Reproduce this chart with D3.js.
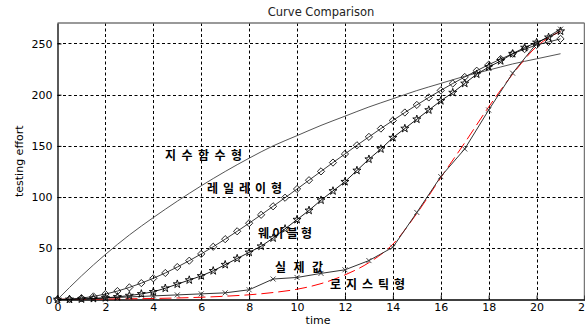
<!DOCTYPE html>
<html><head><meta charset="utf-8">
<script src="https://cdn.jsdelivr.net/npm/d3@7"></script>
<style>body{margin:0;background:#fff;}svg{display:block;}</style>
</head><body>
<svg id="c" width="585" height="327"></svg>
<script>
// ---- data ----
const title = "Curve Comparison";
const xLabel = "time";
const yLabel = "testing effort";
const xTicks = [0,2,4,6,8,10,12,14,16,18,20,22];
const yTicks = [0,50,100,150,200,250];
const tInt = [0,1,2,3,4,5,6,7,8,9,10,11,12,13,14,15,16,17,18,19,20,21];
const tHalf = [0,0.5,1,1.5,2,2.5,3,3.5,4,4.5,5,5.5,6,6.5,7,7.5,8,8.5,9,9.5,10,10.5,11,11.5,12,12.5,13,13.5,14,14.5,15,15.5,16,16.5,17,17.5,18,18.5,19,19.5,20,20.5,21];
const expValues = [0,23,44,63,80,96,111,125,138,150,160,170,179,188,196,204,211,218,224,230,235,240];
const rayleighValues = [0,0.3,1.3,3.0,5.3,8.2,11.8,16.0,20.7,25.9,31.7,37.9,44.5,51.5,58.9,66.6,74.5,82.7,91.0,99.4,107.9,116.5,125.1,133.7,142.1,150.6,158.8,166.9,174.8,182.6,190.0,197.3,204.2,210.9,217.3,223.4,229.3,234.8,240.0,244.5,248.5,251.5,254.5];
const weibullValues = [0,0.1,0.4,0.9,1.6,2.6,3.8,5.5,7.5,11,15,19,23,28,34,40,46,52,60,69,78,87,97,106,115,126,137,147,158,167,176,185,194,202,211,220,227,233,240,246,251,256,262];
const actualValues = [0,0.5,1.5,2.5,3.5,4.5,5.5,6.5,9.5,20,21.5,25.5,29,38,51,85,120,147,185,221,250,264];
const logisticValues = [0.2,0.3,0.5,0.7,1,1.5,2.2,3.2,4.6,6.8,10,15.5,24,36,54,84,119,153,188,220,247,262];
const labels = [
  {text:"지수함수형", x:4.49, y:141.6, w:77},
  {text:"레일레이형", x:6.24, y:108.9, w:75},
  {text:"웨이블형", x:8.37, y:65.9, w:54},
  {text:"실제값", x:9.08, y:32.7, w:48},
  {text:"로지스틱형", x:11.38, y:16.1, w:75}
];

// ---- chart ----
const svg = d3.select("#c");
const x = d3.scaleLinear().domain([0,22]).range([57.5,584.5]);
const y = d3.scaleLinear().domain([0,270]).range([299.5,23]);
const font = "'DejaVu Sans', sans-serif";

// grid
const g = svg.append("g");
g.selectAll(".vg").data(xTicks.filter(d=>d>0&&d<22)).join("line")
  .attr("x1",d=>Math.round(x(d))+0.5).attr("x2",d=>Math.round(x(d))+0.5)
  .attr("y1",y(270)).attr("y2",y(0))
  .attr("stroke","#000").attr("stroke-width",1).attr("stroke-dasharray","3,2.5");
g.selectAll(".hg").data(yTicks.filter(d=>d>0)).join("line")
  .attr("y1",d=>Math.round(y(d))+0.5).attr("y2",d=>Math.round(y(d))+0.5)
  .attr("x1",x(0)).attr("x2",x(22))
  .attr("stroke","#000").attr("stroke-width",1).attr("stroke-dasharray","3,2.5");

// box
svg.append("line").attr("x1",x(0)).attr("x2",x(22)).attr("y1",y(270)).attr("y2",y(270)).attr("stroke","#777").attr("stroke-width",1.5);
svg.append("line").attr("x1",x(22)).attr("x2",x(22)).attr("y1",y(270)).attr("y2",y(0)).attr("stroke","#777").attr("stroke-width",1.5);

// axes
const xAxis = d3.axisBottom(x).tickValues(xTicks).tickSizeInner(-4).tickSizeOuter(0).tickPadding(5);
const yAxis = d3.axisLeft(y).tickValues(yTicks).tickSizeInner(-4).tickSizeOuter(0).tickPadding(5);
const gx = svg.append("g").attr("transform",`translate(0,${y(0)})`).call(xAxis);
const gy = svg.append("g").attr("transform",`translate(${x(0)},0)`).call(yAxis);
[gx,gy].forEach(a=>{
  a.selectAll("text").attr("font-family",font).attr("font-size",11).attr("fill","#000");
  a.select(".domain").attr("stroke","#000").attr("stroke-width",1.3);
  a.selectAll(".tick line").attr("stroke","#000");
});
gx.selectAll("text").attr("dy","0.6em");

// titles
svg.append("text").attr("x",(x(0)+x(22))/2).attr("y",16).attr("text-anchor","middle")
  .attr("font-family",font).attr("font-size",11.5).attr("fill","#222").text(title);
svg.append("text").attr("x",318).attr("y",324).attr("text-anchor","middle")
  .attr("font-family",font).attr("font-size",11).text(xLabel);
svg.append("text").attr("transform",`translate(23,${(y(0)+y(270))/2}) rotate(-90)`).attr("text-anchor","middle")
  .attr("font-family",font).attr("font-size",11).text(yLabel);

// lines
const plot = svg.append("g");
const mk = (xs, ys, curve) => d3.line().x((d,i)=>x(xs[i])).y(d=>y(d)).curve(curve)(ys);

plot.append("path").attr("d",mk(tInt,expValues,d3.curveMonotoneX))
  .attr("fill","none").attr("stroke","#555").attr("stroke-width",1);
plot.append("path").attr("d",mk(tInt,logisticValues,d3.curveMonotoneX))
  .attr("fill","none").attr("stroke","#ff0000").attr("stroke-width",1).attr("stroke-dasharray","12,5");
plot.append("path").attr("d",mk(tInt,actualValues,d3.curveLinear))
  .attr("fill","none").attr("stroke","#333").attr("stroke-width",1);
plot.append("path").attr("d",mk(tHalf,rayleighValues,d3.curveLinear))
  .attr("fill","none").attr("stroke","#222").attr("stroke-width",0.9);
plot.append("path").attr("d",mk(tHalf,weibullValues,d3.curveLinear))
  .attr("fill","none").attr("stroke","#000").attr("stroke-width",0.9);

// markers
plot.selectAll(".dm").data(rayleighValues).join("path")
  .attr("d","M0,-3.6L3.6,0L0,3.6L-3.6,0Z")
  .attr("transform",(d,i)=>`translate(${x(tHalf[i])},${y(d)})`)
  .attr("fill","none").attr("stroke","#111").attr("stroke-width",0.9);
const star = d3.symbol().type(d3.symbolStar).size(20)();
plot.selectAll(".st").data(weibullValues).join("path")
  .attr("d",star)
  .attr("transform",(d,i)=>`translate(${x(tHalf[i])},${y(d)})`)
  .attr("fill","none").attr("stroke","#000").attr("stroke-width",0.9);
plot.selectAll(".xm").data(actualValues).join("path")
  .attr("d","M-2.5,-2.5L2.5,2.5M-2.5,2.5L2.5,-2.5")
  .attr("transform",(d,i)=>`translate(${x(tInt[i])},${y(d)})`)
  .attr("fill","none").attr("stroke","#333").attr("stroke-width",0.9);

// labels
svg.selectAll(".lb").data(labels).join("text")
  .attr("x",d=>x(d.x)).attr("y",d=>y(d.y)).attr("dominant-baseline","central")
  .attr("font-family","'Noto Sans CJK KR', sans-serif").attr("font-weight","bold").attr("font-size",12)
  .attr("textLength",d=>d.w).attr("lengthAdjust","spacing")
  .text(d=>d.text);
</script>
</body></html>
